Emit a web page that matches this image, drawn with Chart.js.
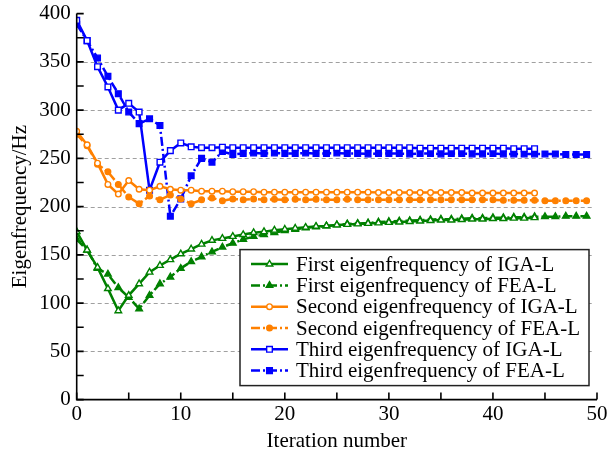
<!DOCTYPE html>
<html>
<head>
<meta charset="utf-8">
<script src="https://cdn.jsdelivr.net/npm/chart.js@4/dist/chart.umd.min.js"></script>
<style>
  html, body { margin: 0; padding: 0; background: #fff; overflow: hidden; }
  #wrap { width: 630px; height: 461px; margin-top: -5px; }
</style>
</head>
<body>
<div id="wrap"><canvas id="c" width="630" height="461"></canvas></div>
<script>
// Iteration numbers
const iterations = [0,1,2,3,4,5,6,7,8,9,10,11,12,13,14,15,16,17,18,19,20,21,22,23,24,25,26,27,28,29,30,31,32,33,34,35,36,37,38,39,40,41,42,43,44,45,46,47,48,49];

// Eigenfrequencies (Hz) per iteration
const firstIGA = [174,155,137,115,92,108,120,132,139,145,151,156,161,165,167,169,171,173,174,175.5,176.5,177.5,178.5,179.5,180,181,181.5,182,182.5,183,183.5,184,184.5,185,185.5,186,186,186.5,187,187,187.5,187.5,188,188,188.5];
const firstFEA = [166,155,136,130,116,106,94,108,120,127,136,143,148,153,158,162,166,169,171,173,175,176.5,178,179,180,181,182,182.5,183,184,184.5,185,185.5,186,186.5,187,187,187.5,188,188,188.5,188.5,189,189,189.5,189.5,189.5,190,190,190];
const secondIGA = [278,264,245,223,213,227,218,217,221,218,217,217,216,216,216,215.5,215.5,215.5,215,215,215,215,215,215,215,215,215,215,215,214.5,214.5,214.5,214.5,214.5,214.5,214.5,214.5,214.5,214,214,214,214,214,214,214];
const secondFEA = [275,263,244,236,223,210,203,211,207,212,208,203,207,209,206,208,207,208,207,207.5,207,207.5,207,207.5,207,207,207.5,207,207,207,207,207,207,207,207,207,207,207,207,207,207,206.5,206.5,206.5,206.5,206,206,206,206,206];
const thirdIGA = [393,372,345,324,300,307,298,217,246,258,266,262,261,261,261.5,261,261,261,261,261,261,261,261,261,261,261,261,261,261,261,261,261,261,260.5,260.5,260.5,260.5,260.5,260.5,260.5,260.5,260.5,260,260,260];
const thirdFEA = [389,372,354,335,317,298,286,291,284,190,208,232,250,246,257,254,255,255.5,255,255.5,255,255,255.5,255,255,255.5,255,255,254.5,255,255,255,254.5,255,255,254.5,255,255,254.5,254.5,255,254.5,254.5,254.5,254.5,254.5,254.5,254,254,254];

const seriesLabels = [
  'First eigenfrequency of IGA-L',
  'First eigenfrequency of FEA-L',
  'Second eigenfrequency of IGA-L',
  'Second eigenfrequency of FEA-L',
  'Third eigenfrequency of IGA-L',
  'Third eigenfrequency of FEA-L'
];

const GREEN = '#008000', ORANGE = '#ff8000', BLUE = '#0000ff';
const DASHDOT = [9, 3, 2, 3];
const SERIF = "'Liberation Serif', 'Times New Roman', serif";

function pts(values) {
  return values.map((v, i) => ({ x: iterations[i], y: v }));
}

function ds(label, values, color, style, hollow, dashed, radius) {
  return {
    label: label,
    data: pts(values),
    borderColor: color,
    backgroundColor: hollow ? '#ffffff' : color,
    borderWidth: 2.5,
    borderDash: dashed ? DASHDOT : [],
    pointStyle: style,
    pointRadius: radius,
    pointBorderWidth: 1.4,
    pointBorderColor: color,
    pointBackgroundColor: hollow ? '#ffffff' : color,
    tension: 0,
    fill: false
  };
}

const datasets = [
  ds(seriesLabels[0], firstIGA, GREEN, 'triangle', true, false, 3.8),
  ds(seriesLabels[1], firstFEA, GREEN, 'triangle', false, true, 3.8),
  ds(seriesLabels[2], secondIGA, ORANGE, 'circle', true, false, 2.8),
  ds(seriesLabels[3], secondFEA, ORANGE, 'circle', false, true, 2.8),
  ds(seriesLabels[4], thirdIGA, BLUE, 'rect', true, false, 4),
  ds(seriesLabels[5], thirdFEA, BLUE, 'rect', false, true, 4)
];

// Dashed horizontal grid lines at labelled y values
const gridPlugin = {
  id: 'dashGrid',
  beforeDatasetsDraw(chart) {
    const { ctx, chartArea, scales } = chart;
    const y = scales.y;
    ctx.save();
    ctx.strokeStyle = '#a0a0a0';
    ctx.lineWidth = 1.2;
    ctx.setLineDash([4, 3]);
    y.ticks.forEach(t => {
      if (t.value <= y.min || t.value >= y.max) return;
      const py = Math.round(y.getPixelForValue(t.value)) + 0.5;
      ctx.beginPath();
      ctx.moveTo(chartArea.left, py);
      ctx.lineTo(chartArea.right - 4, py);
      ctx.stroke();
    });
    ctx.restore();
  }
};

// Axis lines with inward tick marks (minor ones between labels)
const axisPlugin = {
  id: 'inwardAxes',
  afterDatasetsDraw(chart) {
    const { ctx, chartArea, scales } = chart;
    const x = scales.x, y = scales.y;
    ctx.save();
    ctx.strokeStyle = '#000';
    ctx.lineWidth = 1.6;
    ctx.setLineDash([]);
    ctx.beginPath();
    ctx.moveTo(chartArea.left, chartArea.top);
    ctx.lineTo(chartArea.left, chartArea.bottom);
    ctx.lineTo(chartArea.right, chartArea.bottom);
    ctx.stroke();
    const len = 7;
    ctx.beginPath();
    for (let v = y.min; v <= y.max; v += 25) {
      const py = y.getPixelForValue(v);
      ctx.moveTo(chartArea.left, py);
      ctx.lineTo(chartArea.left + len, py);
    }
    for (let v = x.min; v <= x.max; v += 5) {
      const px = x.getPixelForValue(v);
      ctx.moveTo(px, chartArea.bottom);
      ctx.lineTo(px, chartArea.bottom - len);
    }
    ctx.stroke();
    ctx.restore();
  }
};

// Boxed legend inside the plot, lower right
const legendPlugin = {
  id: 'boxLegend',
  afterDraw(chart) {
    const { ctx, chartArea } = chart;
    const boxRight = chartArea.right - 8;
    const boxLeft = boxRight - 349;
    const boxBottom = chartArea.bottom - 14;
    const boxTop = boxBottom - 136;
    const rowH = 21.3;
    ctx.save();
    ctx.fillStyle = '#fff';
    ctx.fillRect(boxLeft, boxTop, boxRight - boxLeft, boxBottom - boxTop);
    ctx.strokeStyle = '#222';
    ctx.lineWidth = 1.5;
    ctx.setLineDash([]);
    ctx.strokeRect(boxLeft, boxTop, boxRight - boxLeft, boxBottom - boxTop);
    ctx.font = '21px ' + SERIF;
    ctx.textBaseline = 'middle';
    ctx.textAlign = 'left';
    chart.data.datasets.forEach((d, i) => {
      const cy = boxTop + 14.5 + i * rowH;
      const x0 = boxLeft + 11, x1 = boxLeft + 48;
      ctx.strokeStyle = d.borderColor;
      ctx.lineWidth = d.borderWidth;
      ctx.setLineDash(d.borderDash);
      ctx.beginPath();
      ctx.moveTo(x0, cy);
      ctx.lineTo(x1, cy);
      ctx.stroke();
      ctx.setLineDash([]);
      ctx.fillStyle = d.pointBackgroundColor;
      ctx.strokeStyle = d.pointBorderColor;
      ctx.lineWidth = d.pointBorderWidth;
      Chart.helpers.drawPoint(ctx, { pointStyle: d.pointStyle, radius: d.pointRadius, borderWidth: d.pointBorderWidth, rotation: 0 }, (x0 + x1) / 2, cy);
      ctx.fillStyle = '#000';
      ctx.fillText(d.label, boxLeft + 56, cy + 1);
    });
    ctx.restore();
  }
};

new Chart(document.getElementById('c'), {
  type: 'line',
  data: { datasets: datasets },
  options: {
    responsive: false,
    animation: false,
    layout: { padding: { top: 9, right: 33, left: 8, bottom: 2 } },
    plugins: { legend: { display: false }, tooltip: { enabled: false } },
    scales: {
      x: {
        type: 'linear',
        min: 0, max: 50,
        grid: { display: false, drawTicks: false },
        border: { display: false },
        ticks: { stepSize: 10, color: '#000', font: { family: SERIF, size: 21 }, padding: 2 },
        title: { display: true, text: 'Iteration number', color: '#000', font: { family: SERIF, size: 21 }, padding: { top: 0, bottom: 0 } }
      },
      y: {
        min: 0, max: 400,
        grid: { display: false, drawTicks: false },
        border: { display: false },
        ticks: { stepSize: 50, color: '#000', font: { family: SERIF, size: 21 }, padding: 6 },
        title: { display: true, text: 'Eigenfrequency/Hz', color: '#000', font: { family: SERIF, size: 21 }, padding: { top: 0, bottom: 0 } }
      }
    }
  },
  plugins: [gridPlugin, axisPlugin, legendPlugin]
});
</script>
</body>
</html>
